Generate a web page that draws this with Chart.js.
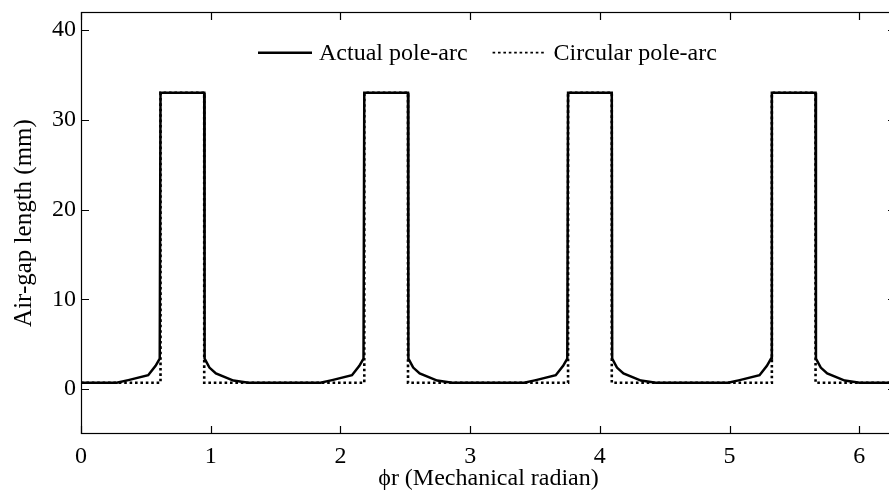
<!DOCTYPE html>
<html>
<head>
<meta charset="utf-8">
<script src="https://cdn.jsdelivr.net/npm/chart.js@4/dist/chart.umd.min.js"></script>
<style>
  html, body { margin: 0; padding: 0; background: #fff; overflow: hidden; }
  #wrap { width: 889px; height: 504px; overflow: hidden; }
</style>
</head>
<body>
<div id="wrap"><canvas id="gap" width="897" height="504"></canvas></div>
<script>
// ── Air-gap length around the rotor, four poles ─────────────────────────────
var xTicks = [0, 1, 2, 3, 4, 5, 6];
var yTicks = [0, 10, 20, 30, 40];

// actual (shaped) pole-arc
var actualX = [0,
    0.275, 0.365, 0.518, 0.575, 0.607, 0.613, 0.950, 0.953, 0.990, 1.040, 1.175, 1.290,
    1.846, 1.936, 2.089, 2.146, 2.178, 2.184, 2.521, 2.524, 2.561, 2.611, 2.746, 2.861,
    3.417, 3.507, 3.660, 3.717, 3.749, 3.755, 4.092, 4.095, 4.132, 4.182, 4.317, 4.432,
    4.988, 5.078, 5.231, 5.288, 5.320, 5.326, 5.663, 5.666, 5.703, 5.753, 5.888, 6.003,
    6.283];
var actualY = [0.7,
    0.7, 1.0, 1.55, 2.6, 3.4, 33, 33, 3.4, 2.4, 1.75, 0.95, 0.7,
    0.7, 1.0, 1.55, 2.6, 3.4, 33, 33, 3.4, 2.4, 1.75, 0.95, 0.7,
    0.7, 1.0, 1.55, 2.6, 3.4, 33, 33, 3.4, 2.4, 1.75, 0.95, 0.7,
    0.7, 1.0, 1.55, 2.6, 3.4, 33, 33, 3.4, 2.4, 1.75, 0.95, 0.7,
    0.7];

// ideal circular pole-arc
var circularX = [0, 0.613, 0.613, 0.950, 0.950, 2.184, 2.184, 2.521, 2.521,
    3.755, 3.755, 4.092, 4.092, 5.326, 5.326, 5.663, 5.663, 6.283];
var circularY = [0.7, 0.7, 33, 33, 0.7, 0.7, 33, 33, 0.7,
    0.7, 33, 33, 0.7, 0.7, 33, 33, 0.7, 0.7];

var FONT = "'Liberation Serif', 'Times New Roman', serif";
var FSIZE = 24;

function pts(xs, ys) {
    return xs.map(function(x, i) { return { x: x, y: ys[i] }; });
}

function fixTicks(values) {
    return function(scale) {
        scale.ticks = values.map(function(v) { return { value: v }; });
    };
}

// box round the plot with inward ticks on all four sides
var frame = {
    id: 'frame',
    afterDatasetsDraw: function(chart) {
        var ctx = chart.ctx, a = chart.chartArea;
        var sx = chart.scales.x, sy = chart.scales.y;
        var len = 8;
        ctx.save();
        ctx.strokeStyle = '#000';
        ctx.lineWidth = 1.2;
        ctx.strokeRect(a.left + 0.5, a.top + 0.5, a.right - a.left - 1, a.bottom - a.top - 1);
        ctx.beginPath();
        sx.ticks.forEach(function(t) {
            var px = Math.round(sx.getPixelForValue(t.value)) + 0.5;
            ctx.moveTo(px, a.bottom); ctx.lineTo(px, a.bottom - len);
            ctx.moveTo(px, a.top);    ctx.lineTo(px, a.top + len);
        });
        sy.ticks.forEach(function(t) {
            var py = Math.round(sy.getPixelForValue(t.value)) + 0.5;
            ctx.moveTo(a.left, py);  ctx.lineTo(a.left + len, py);
            ctx.moveTo(a.right, py); ctx.lineTo(a.right - len, py);
        });
        ctx.stroke();
        ctx.restore();
    }
};

// legend drawn inside the plot, near the top
var inlineLegend = {
    id: 'inlineLegend',
    afterDraw: function(chart) {
        var ctx = chart.ctx, a = chart.chartArea;
        var sets = chart.data.datasets;
        var lineLen = 54, gap = 7, itemGap = 25;
        ctx.save();
        ctx.font = FSIZE + 'px ' + FONT;
        var x = a.left + 177;
        var y = a.top + 40.7;
        sets.forEach(function(ds) {
            ctx.beginPath();
            ctx.strokeStyle = ds.borderColor;
            ctx.lineWidth = ds.legendWidth;
            ctx.setLineDash(ds.borderDash || []);
            ctx.moveTo(x, y);
            ctx.lineTo(x + lineLen, y);
            ctx.stroke();
            ctx.setLineDash([]);
            ctx.fillStyle = '#000';
            ctx.textBaseline = 'middle';
            ctx.textAlign = 'left';
            ctx.fillText(ds.label, x + lineLen + gap, y + 1);
            x += lineLen + gap + ctx.measureText(ds.label).width + itemGap;
        });
        ctx.restore();
    }
};

new Chart(document.getElementById('gap'), {
    type: 'line',
    data: {
        datasets: [{
            label: 'Actual pole-arc',
            data: pts(actualX, actualY),
            borderColor: '#000',
            borderWidth: 2.5,
            legendWidth: 2.6,
            pointRadius: 0,
            tension: 0,
            borderJoinStyle: 'miter'
        }, {
            label: 'Circular pole-arc',
            data: pts(circularX, circularY),
            borderColor: '#000',
            borderWidth: 2.6,
            legendWidth: 1.8,
            borderDash: [2.6, 2.8],
            borderCapStyle: 'butt',
            pointRadius: 0,
            tension: 0
        }]
    },
    options: {
        responsive: false,
        animation: false,
        devicePixelRatio: 1,
        layout: { padding: { top: 12, right: 1, bottom: 0, left: 0 } },
        plugins: {
            legend: { display: false },
            tooltip: { enabled: false }
        },
        scales: {
            x: {
                type: 'linear',
                min: 0,
                max: 6.2832,
                afterBuildTicks: fixTicks(xTicks),
                afterFit: function(s) { s.height = 70; s.paddingLeft = 0; s.paddingRight = 0; },
                grid: { display: false, drawTicks: false },
                border: { display: false },
                ticks: {
                    color: '#000',
                    padding: 8,
                    maxRotation: 0,
                    font: { family: FONT, size: FSIZE }
                },
                title: {
                    display: true,
                    text: 'ϕr (Mechanical radian)',
                    color: '#000',
                    padding: { top: 0, bottom: 11 },
                    font: { family: FONT, size: FSIZE }
                }
            },
            y: {
                min: -5,
                max: 42,
                afterBuildTicks: fixTicks(yTicks),
                afterFit: function(s) { s.width = 81; s.paddingTop = 0; s.paddingBottom = 0; },
                grid: { display: false, drawTicks: false },
                border: { display: false },
                ticks: {
                    color: '#000',
                    padding: 5,
                    font: { family: FONT, size: FSIZE }
                },
                title: {
                    display: true,
                    text: 'Air-gap length (mm)',
                    color: '#000',
                    padding: { top: 9, bottom: 0 },
                    font: { family: FONT, size: 25 }
                }
            }
        }
    },
    plugins: [frame, inlineLegend]
});
</script>
</body>
</html>
